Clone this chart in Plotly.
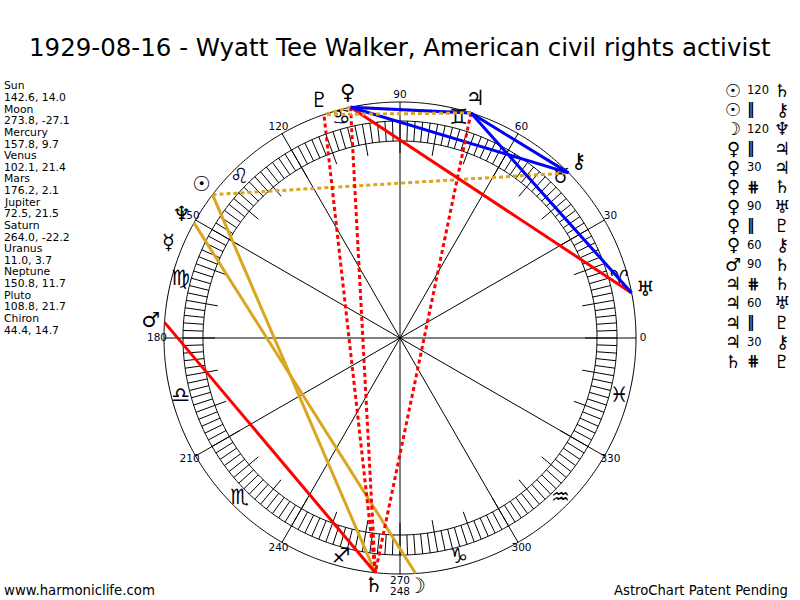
import numpy as np
import plotly.graph_objects as go

# ---------------- data ----------------
title = "1929-08-16 - Wyatt Tee Walker, American civil rights activist"

planet_names = ["Sun", "Moon", "Mercury", "Venus", "Mars", "Jupiter",
                "Saturn", "Uranus", "Neptune", "Pluto", "Chiron"]
planet_glyphs = ["☉", "☽", "☿", "♀", "♂", "♃", "♄", "♅", "♆", "♇", "⚷"]
longitudes = [142.6, 273.8, 157.8, 102.1, 176.2, 72.5, 264.0, 11.0, 150.8, 108.8, 44.4]
declinations = [14.0, -27.1, 9.7, 21.4, 2.1, 21.5, -22.2, 3.7, 11.7, 21.7, 14.7]

sign_glyphs = ["♈", "♉", "♊", "♋", "♌", "♍", "♎", "♏", "♐", "♑", "♒", "♓"]
sign_mid_deg = [15, 45, 75, 105, 135, 165, 195, 225, 255, 285, 315, 345]

degree_labels = [0, 30, 60, 90, 120, 150, 180, 210, 240, 270, 300, 330]
extra_label_text = "248"
extra_label_deg = 270

aspect_p1 = ["Sun", "Sun", "Moon", "Venus", "Venus", "Venus", "Venus", "Venus",
             "Venus", "Mars", "Jupiter", "Jupiter", "Jupiter", "Jupiter", "Saturn"]
aspect_kind = ["120", "II", "120", "II", "30", "#", "90", "II",
               "60", "90", "#", "60", "II", "30", "#"]
aspect_p2 = ["Saturn", "Chiron", "Neptune", "Jupiter", "Jupiter", "Saturn", "Uranus", "Pluto",
             "Chiron", "Saturn", "Saturn", "Uranus", "Pluto", "Chiron", "Pluto"]

footer_left = "www.harmoniclife.com"
footer_right = "AstroChart Patent Pending"

# ---------------- styles / geometry ----------------
W, H = 800, 600
CX, CY = 400, 338
RMAX = 262
R_OUT, R_RING_OUT, R_RING_IN, R_TICK_IN = 236, 217, 197, 185
R_SIGN, R_PLANET, R_DEG, R_EXTRA = 227, 250, 243, 254
FONT = "Verdana, DejaVu Sans, sans-serif"
GOLD, RED, BLUE = "#DAA520", "#FF0000", "#0000FF"
aspect_style = {
    "120": (GOLD, "solid"),
    "II": (GOLD, "4px,3px"),
    "#": (RED, "4px,3px"),
    "90": (RED, "solid"),
    "60": (BLUE, "solid"),
    "30": (BLUE, "solid"),
}
aspect_symbol = {"II": "<b>‖</b>", "#": "<b>⋕</b>"}

lon_of = dict(zip(planet_names, longitudes))
glyph_of = dict(zip(planet_names, planet_glyphs))

fig = go.Figure()

# circles
th = np.linspace(0, 360, 721)
for rr in [R_OUT, R_RING_OUT, R_RING_IN]:
    fig.add_trace(go.Scatterpolar(r=np.full_like(th, rr), theta=th, mode="lines",
                                  line=dict(color="black", width=1), hoverinfo="skip"))

# spokes every 30 degrees
sr, st = [], []
for d in degree_labels:
    sr += [0, R_OUT, None]
    st += [d, d, None]
fig.add_trace(go.Scatterpolar(r=sr, theta=st, mode="lines",
                              line=dict(color="black", width=1), hoverinfo="skip"))

# ring ticks every 2 degrees and longer inner ticks every 10
tr, tt = [], []
for d in range(0, 360, 2):
    tr += [R_RING_IN, R_RING_OUT, None]
    tt += [d, d, None]
for d in range(0, 360, 10):
    tr += [R_TICK_IN, R_RING_IN, None]
    tt += [d, d, None]
fig.add_trace(go.Scatterpolar(r=tr, theta=tt, mode="lines",
                              line=dict(color="black", width=1), hoverinfo="skip"))

# degree labels
fig.add_trace(go.Scatterpolar(r=[R_DEG] * len(degree_labels), theta=degree_labels,
                              mode="text", text=[str(d) for d in degree_labels],
                              textfont=dict(family=FONT, size=10.5, color="#000020"),
                              textposition="middle center", cliponaxis=False, hoverinfo="skip"))
fig.add_trace(go.Scatterpolar(r=[R_EXTRA], theta=[extra_label_deg], mode="text",
                              text=[extra_label_text],
                              textfont=dict(family=FONT, size=10.5, color="#000020"),
                              textposition="middle center", cliponaxis=False, hoverinfo="skip"))

# sign glyphs
fig.add_trace(go.Scatterpolar(r=[R_SIGN] * 12, theta=sign_mid_deg, mode="text",
                              text=[g + "\ufe0e" for g in sign_glyphs],
                              textfont=dict(family="DejaVu Sans", size=21, color="#000010"),
                              textposition="middle center", cliponaxis=False, hoverinfo="skip"))

# aspect lines
for a, k, b in zip(aspect_p1, aspect_kind, aspect_p2):
    col, dash = aspect_style[k]
    fig.add_trace(go.Scatterpolar(r=[R_OUT, R_OUT], theta=[lon_of[a], lon_of[b]],
                                  mode="lines", line=dict(color=col, width=3, dash=dash),
                                  hoverinfo="skip"))

# planet glyphs
fig.add_trace(go.Scatterpolar(r=[R_PLANET] * len(longitudes), theta=longitudes, mode="text",
                              text=planet_glyphs,
                              textfont=dict(family="DejaVu Sans", size=21, color="black"),
                              textposition="middle center", cliponaxis=False, hoverinfo="skip"))

# ---------------- annotations ----------------
ann = []
ann.append(dict(x=0.5, y=1 - 47 / H, xref="paper", yref="paper", text=title, showarrow=False,
                font=dict(family=FONT, size=24.5, color="black"), xanchor="center",
                yanchor="middle"))

# left data column
y0, dy = 86, 11.62
row = 0
for name, lon, dec in zip(planet_names, longitudes, declinations):
    for line in (name, f"{lon:.1f}, {dec:.1f}"):
        ann.append(dict(x=2 / W, y=1 - (y0 + dy * row) / H, xref="paper", yref="paper",
                        text=line, showarrow=False, xanchor="left", yanchor="middle",
                        font=dict(family=FONT, size=10.8, color="black")))
        row += 1

# right aspect legend
ly0, ldy = 90, 19.36
for i, (a, k, b) in enumerate(zip(aspect_p1, aspect_kind, aspect_p2)):
    yy = 1 - (ly0 + ldy * i) / H
    ann.append(dict(x=733 / W, y=yy, xref="paper", yref="paper", text=glyph_of[a],
                    showarrow=False, xanchor="center", yanchor="middle",
                    font=dict(family="DejaVu Sans", size=18, color="black")))
    ann.append(dict(x=745 / W, y=yy, xref="paper", yref="paper",
                    text=aspect_symbol.get(k, k), showarrow=False, xanchor="left",
                    yanchor="middle",
                    font=dict(family=FONT, size=11.5 if k not in aspect_symbol else 15,
                              color="black")))
    ann.append(dict(x=782 / W, y=yy, xref="paper", yref="paper", text=glyph_of[b],
                    showarrow=False, xanchor="center", yanchor="middle",
                    font=dict(family="DejaVu Sans", size=18, color="black")))

ann.append(dict(x=2 / W, y=1 - 590 / H, xref="paper", yref="paper", text=footer_left,
                showarrow=False, xanchor="left", yanchor="middle",
                font=dict(family=FONT, size=13.3, color="black")))
ann.append(dict(x=790 / W, y=1 - 590 / H, xref="paper", yref="paper", text=footer_right,
                showarrow=False, xanchor="right", yanchor="middle",
                font=dict(family=FONT, size=13.2, color="black")))

fig.update_layout(
    width=W, height=H, margin=dict(l=0, r=0, t=0, b=0),
    paper_bgcolor="white", plot_bgcolor="white", showlegend=False,
    polar=dict(
        domain=dict(x=[(CX - RMAX) / W, (CX + RMAX) / W],
                    y=[(H - CY - RMAX) / H, (H - CY + RMAX) / H]),
        bgcolor="white",
        radialaxis=dict(range=[0, RMAX], visible=False),
        angularaxis=dict(rotation=0, direction="counterclockwise", visible=False),
    ),
    annotations=ann,
)

fig.write_html("out.html", config={"displayModeBar": False},
               post_script="document.body.style.margin='0';document.body.style.overflow='hidden';")
